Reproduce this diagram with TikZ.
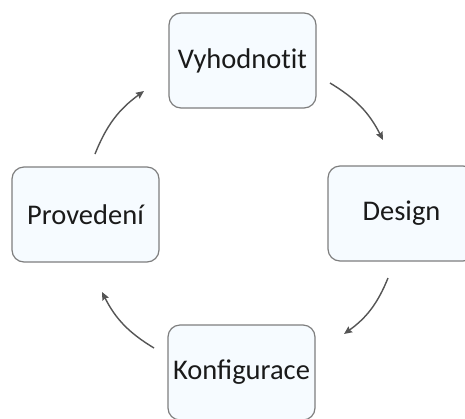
\documentclass[tikz,border=0pt]{standalone}
\usepackage{fontspec}
\setmainfont{Carlito}
\usetikzlibrary{arrows.meta}
\definecolor{boxfill}{HTML}{F6FBFF}
\definecolor{boxline}{HTML}{7E7E7E}
\definecolor{arrowline}{HTML}{555555}
\definecolor{textcol}{HTML}{1A1A1A}
\tikzset{
  phase/.style={draw=boxline, line width=1.2pt, fill=boxfill, rounded corners=12pt,
    minimum width=147pt, minimum height=95pt, inner sep=0pt,
    font=\fontsize{28.5}{30}\selectfont, text=textcol},
  cyclearrow/.style={draw=arrowline, line width=1.4pt,
    -{Stealth[length=8pt,width=7pt,inset=1pt]}, bend left=16}
}
\begin{document}
\begin{tikzpicture}[x=1pt,y=-1pt]
  \useasboundingbox (0,0) rectangle (465,418);
  \clip (0,0) rectangle (465,418);
  \fill[white] (0,0) rectangle (465,418);

  % the four phases of the cycle
  \node[phase] (eval)   at (242.5,60.5)  {Vyhodnot\kern0pt{}it};
  \node[phase] (design) at (401.5,213.5) {Design};
  \node[phase] (config) at (241.5,372.5) {Konfigurace};
  \node[phase] (run)    at (85.5,214.5)  {Provedení};

  % arrow end points around the cycle
  \coordinate (a1) at (330,83);
  \coordinate (b1) at (383,140);
  \coordinate (a2) at (388,278);
  \coordinate (b2) at (344,334);
  \coordinate (a3) at (154,348);
  \coordinate (b3) at (102,292);
  \coordinate (a4) at (95,154);
  \coordinate (b4) at (144,91);

  \draw[cyclearrow] (a1) to (b1);
  \draw[cyclearrow] (a2) to (b2);
  \draw[cyclearrow] (a3) to (b3);
  \draw[cyclearrow] (a4) to (b4);
\end{tikzpicture}
\end{document}
